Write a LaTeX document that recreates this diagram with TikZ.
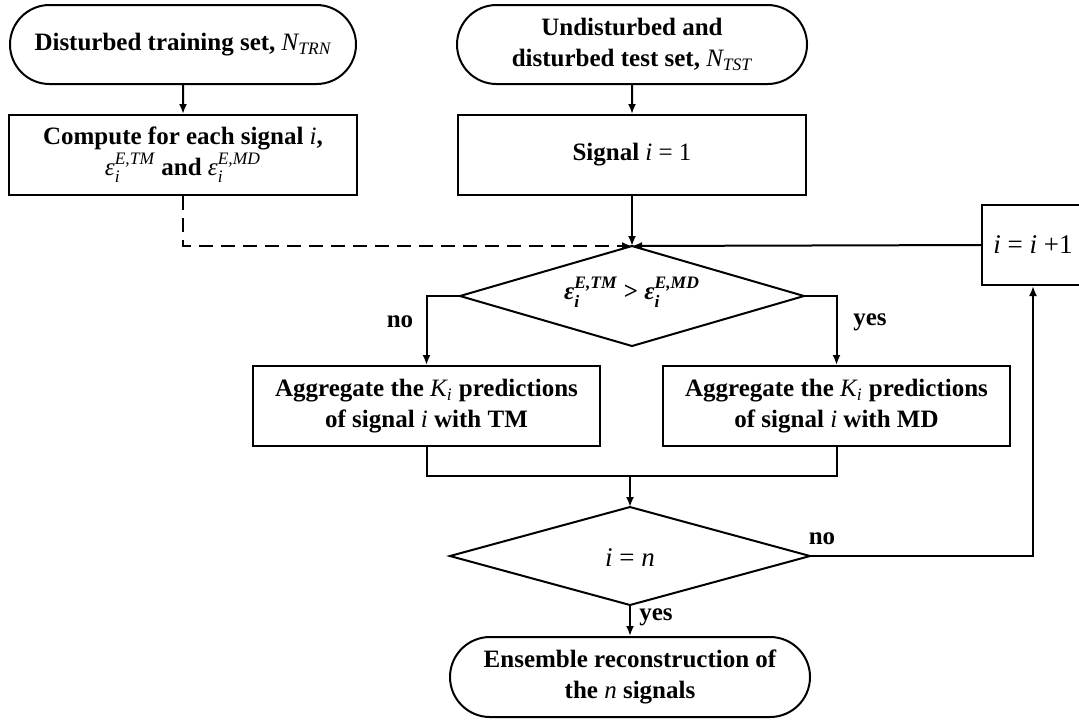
\documentclass[tikz,border=0pt]{standalone}
\usepackage{fontspec}
\usepackage{amsmath}
\setmainfont{Liberation Serif}
\usetikzlibrary{shapes.geometric,shapes.misc,arrows.meta}
\newcommand{\nsub}[2]{{\mdseries\itshape #1}$_{\text{\mdseries\itshape #2}}$}
\newcommand{\epsn}[1]{{\mdseries\itshape ε}$_{\text{\mdseries\itshape i}}^{\text{\mdseries\itshape E,#1}}$}
\newcommand{\epsb}[1]{{\bfseries\itshape ε}$_{\text{\bfseries\itshape i}}^{\text{\bfseries\itshape E,#1}}$}
\newcommand{\vi}[1]{{\mdseries\itshape #1}}
\begin{document}
\begin{tikzpicture}[x=0.5pt,y=-0.5pt,
  every node/.style={font=\bfseries\fontsize{12.5}{15.5}\selectfont},
  line/.style={line width=1pt},
  arr/.style={line, -{Latex[length=5pt,width=4pt]}},
  term/.style={draw,line width=1pt,rounded rectangle,align=center,inner sep=0pt},
  proc/.style={draw,line width=1pt,rectangle,align=center,inner sep=0pt},
  dec/.style={draw,line width=1pt,diamond,inner sep=0pt,outer sep=0pt},
  lbl/.style={inner sep=0pt}]
\clip (0,0) rectangle (1079,720);
\fill[white] (0,0) rectangle (1079,720);
% top row
\node[term,minimum width=173pt,minimum height=39.5pt] (t1) at (183,44.5)
  {Disturbed training set, \nsub{N}{TRN}};
\node[term,minimum width=175pt,minimum height=39.5pt] (t2) at (632,44.5)
  {Undisturbed and\\disturbed test set, \nsub{N}{TST}};
\node[proc,minimum width=174pt,minimum height=40pt] (comp) at (183,155)
  {Compute for each signal \vi{i},\\\epsn{TM} and \epsn{MD}};
\node[proc,minimum width=174pt,minimum height=40pt] (sig) at (632,155)
  {Signal \vi{i} {\mdseries = 1}};
% decision 1
\node[dec,minimum width=172pt,minimum height=50pt] (d1) at (632,296) {};
\node[lbl] (d1t) at (632,292) {\epsb{TM} > \epsb{MD}};
\node[proc,minimum width=51pt,minimum height=40pt] (inc) at (1033,245)
  {\mdseries\fontsize{13.5}{15}\selectfont\vi{i} = \vi{i} +1};
% aggregate boxes
\node[proc,minimum width=173.5pt,minimum height=40pt] (aggL) at (426.5,406)
  {Aggregate the \nsub{K}{i} predictions\\of signal \vi{i} with TM};
\node[proc,minimum width=173.5pt,minimum height=40pt] (aggR) at (836.5,406)
  {Aggregate the \nsub{K}{i} predictions\\of signal \vi{i} with MD};
% decision 2
\node[dec,minimum width=180pt,minimum height=49pt] (d2) at (630,556) {};
\node[lbl] (d2t) at (630,558)
  {\mdseries\fontsize{13.5}{15}\selectfont\vi{i} = \vi{n}};
\node[term,minimum width=180pt,minimum height=40pt] (t3) at (630,677)
  {Ensemble reconstruction of\\the \vi{n} signals};
\coordinate (m) at (630,476);
% labels
\node[lbl] (no1) at (400,322) {no};
\node[lbl] (yes1) at (870,322) {yes};
\node[lbl] (no2) at (822,539) {no};
\node[lbl] (yes2) at (656,617) {yes};
% connectors
\draw[arr] (t1) -- (comp);
\draw[arr] (t2) -- (sig);
\draw[arr] (sig) -- (d1.north);
\draw[arr,dash pattern=on 7pt off 4pt] (comp.south) |- (d1.north);
\draw[arr] (inc.west) -- (d1.north);
\draw[arr] (d1.west) -| (aggL.north);
\draw[arr] (d1.east) -| (aggR.north);
\draw[line] (aggL.south) |- (m) -| (aggR.south);
\draw[arr] (m) -- (d2.north);
\draw[arr] (d2.south) -- (t3.north);
\draw[arr] (d2.east) -| (inc.south);
\end{tikzpicture}
\end{document}
